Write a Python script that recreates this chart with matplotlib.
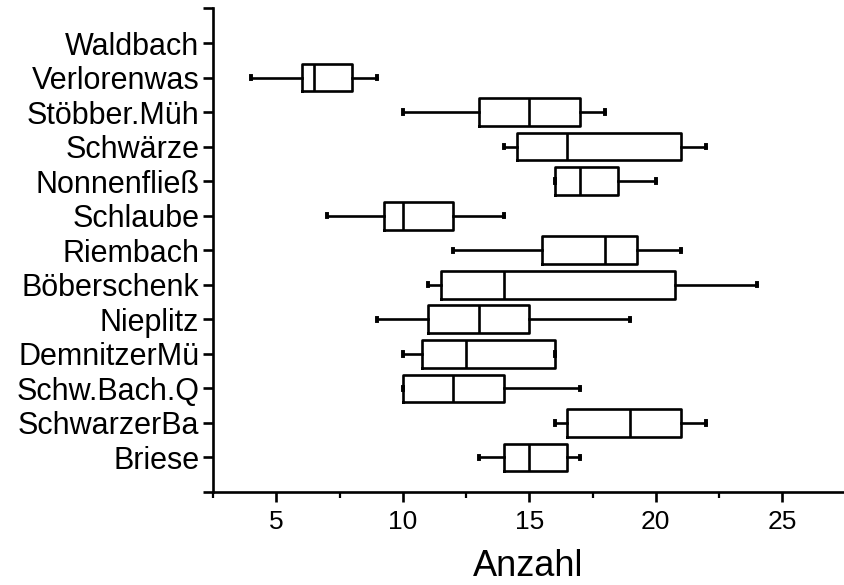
import matplotlib
matplotlib.use("Agg")
import matplotlib.pyplot as plt
from matplotlib.ticker import MultipleLocator

plt.rcParams['font.family'] = ['Liberation Sans', 'DejaVu Sans']

# stations from bottom to top
stations = ["Briese", "SchwarzerBa", "Schw.Bach.Q", "DemnitzerMü", "Nieplitz",
            "Böberschenk", "Riembach", "Schlaube", "Nonnenfließ", "Schwärze",
            "Stöbber.Müh", "Verlorenwas", "Waldbach"]
whis_lo = [13, 16, 10, 10, 9, 11, 12, 7, 16, 14, 10, 4, None]
q1 = [14, 16.5, 10, 10.75, 11, 11.5, 15.5, 9.25, 16, 14.5, 13, 6, None]
median = [15, 19, 12, 12.5, 13, 14, 18, 10, 17, 16.5, 15, 6.5, None]
q3 = [16.5, 21, 14, 16, 15, 20.75, 19.25, 12, 18.5, 21, 17, 8, None]
whis_hi = [17, 22, 17, 16, 19, 24, 21, 14, 20, 22, 18, 9, None]

stats = []
positions = []
for i, name in enumerate(stations):
    if median[i] is None:
        continue  # Waldbach has no data
    stats.append(dict(label=name, whislo=whis_lo[i], q1=q1[i], med=median[i],
                      q3=q3[i], whishi=whis_hi[i], fliers=[]))
    positions.append(i + 1)

fig = plt.figure(figsize=(8.44, 5.85), dpi=100)
ax = fig.add_axes([0.2524, 0.159, 0.7476, 0.8265])

line = dict(color='black', linewidth=1.9)
ax.bxp(stats, positions=positions, vert=False, widths=0.8, showfliers=False,
       boxprops=line, medianprops=line, whiskerprops=line,
       capprops=dict(color='black', linewidth=2.8), capwidths=0.1,
       manage_ticks=False)

ax.set_xlim(2.5, 27.44)
ax.set_ylim(0, 14)
ax.xaxis.set_major_locator(MultipleLocator(5))
ax.xaxis.set_minor_locator(MultipleLocator(2.5))
ax.set_yticks(range(0, 15))
ax.set_yticklabels([""] + stations + [""])

for s in ['top', 'right']:
    ax.spines[s].set_visible(False)
for s in ['left', 'bottom']:
    ax.spines[s].set_linewidth(1.9)

ax.tick_params(axis='x', which='major', length=7, width=1.9, labelsize=19, pad=6)
ax.tick_params(axis='x', which='minor', length=4, width=1.6)
ax.tick_params(axis='y', which='major', length=7, width=1.9, labelsize=22, pad=3)

ax.set_xlabel("Anzahl", fontsize=26, labelpad=11)

fig.savefig("out.png", dpi=100)
